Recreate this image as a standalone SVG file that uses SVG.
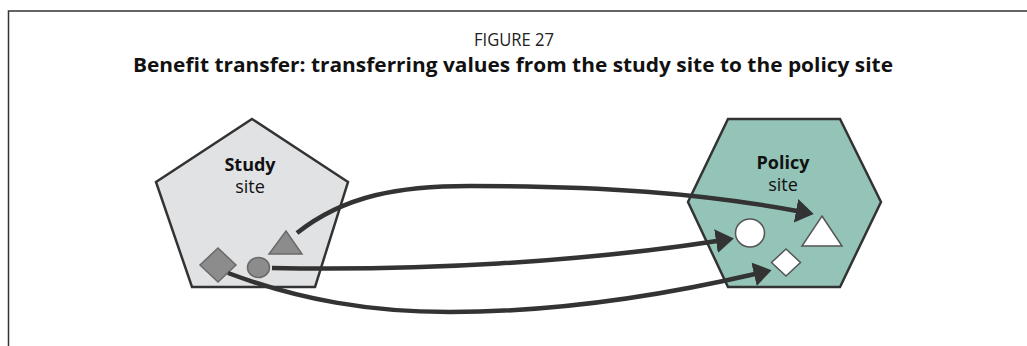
<svg xmlns="http://www.w3.org/2000/svg" width="1027" height="346" viewBox="0 0 1027 346">
<style>
.frame{fill:none;stroke:#333;stroke-width:1.5}
.t1{font-family:"Open Sans","Liberation Sans",sans-serif;font-size:18px;fill:#222;text-anchor:middle}
.t2{font-family:"Open Sans","Liberation Sans",sans-serif;font-size:20px;font-weight:bold;fill:#111;text-anchor:middle}
.lb{font-family:"Open Sans","Liberation Sans",sans-serif;font-size:18px;font-weight:bold;fill:#111;text-anchor:middle}
.ln{font-family:"Open Sans","Liberation Sans",sans-serif;font-size:18px;fill:#111;text-anchor:middle}
.site{stroke:#333;stroke-width:2.5;stroke-linejoin:miter}
.gs{fill:#8c8c8c;stroke:#6a6a6a;stroke-width:1.5}
.ws{fill:#fff;stroke:#555;stroke-width:1.5}
.arr{fill:none;stroke:#333;stroke-width:4.5;marker-end:url(#ah)}
</style>
<defs>
<marker id="ah" markerUnits="userSpaceOnUse" viewBox="0 0 18 24" refX="1" refY="12" markerWidth="18" markerHeight="24" orient="auto">
<path d="M0,0 L18,12 L0,24 z" fill="#333"/>
</marker>
</defs>
<rect width="1027" height="346" fill="#fff"/>
<path class="frame" d="M8.5,346 V11 H1027"/>
<text class="t1" x="514" y="46" textLength="80" lengthAdjust="spacingAndGlyphs">FIGURE 27</text>
<text class="t2" x="513" y="72" textLength="760" lengthAdjust="spacingAndGlyphs">Benefit transfer: transferring values from the study site to the policy site</text>
<g id="study-site">
<polygon class="site" points="252,119 348,182 315,287 192,287 156,182" fill="#e1e2e4"/>
<text class="lb" x="250" y="171">Study</text>
<text class="ln" x="250" y="193">site</text>
<polygon class="gs" points="286,231 302,254 269,254"/>
<ellipse class="gs" cx="258.5" cy="267.5" rx="11" ry="10"/>
<polygon class="gs" points="218,248 236,265 218,282 200,265"/>
</g>
<g id="policy-site">
<polygon class="site" points="728,119 840,119 881,202 840,287 728,287 688,202" fill="#94c4b8"/>
<text class="lb" x="783" y="169">Policy</text>
<text class="ln" x="783" y="191">site</text>
<ellipse class="ws" cx="750" cy="233" rx="14.5" ry="14"/>
<polygon class="ws" points="822,216 842,246 802,246"/>
<polygon class="ws" points="786,249 800.5,262.5 786,276 771.5,262.5"/>
</g>
<g id="connectors">
<path class="arr" d="M297,233 C345,195 400,186 470,186 C600,186 700,193 797,211"/>
<path class="arr" d="M272,268 C420,271 580,262 717,241"/>
<path class="arr" d="M228,273 C300,300 370,312 450,312 C560,312 660,296 755,274"/>
</g>
</svg>
